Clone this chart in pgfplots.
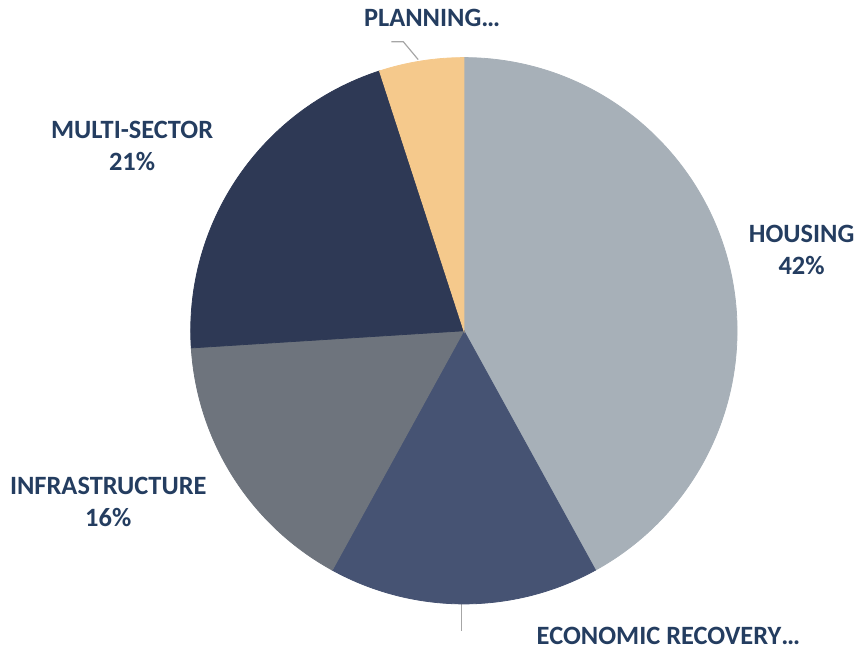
\documentclass[border=0pt]{standalone}
\usepackage{pgfplots}
\pgfplotsset{compat=1.18}
\usepackage{pgfplotstable}
\usepackage{fontspec}
\setmainfont{Carlito}
\definecolor{c0}{HTML}{A7B0B8}
\definecolor{c1}{HTML}{465373}
\definecolor{c2}{HTML}{6E747D}
\definecolor{c3}{HTML}{2E3955}
\definecolor{c4}{HTML}{F5C98C}
\definecolor{textc}{HTML}{243D60}
\definecolor{leader}{HTML}{A6A6A6}
% slices: share in percent, cumulative start in percent
\pgfplotstableread{
x y val start idx
467 322 42 0 0
467 322 16 42 1
467 322 16 58 2
467 322 21 74 3
467 322 5 95 4
}\slices
\begin{document}
\begin{tikzpicture}
\begin{axis}[
  scale only axis, width=430.5pt, height=327.5pt,
  xmin=0, xmax=861, ymin=0, ymax=655,
  hide axis, clip=false,
]
\path (rel axis cs:0,0) rectangle (rel axis cs:1,1);
\addplot[
  scatter, only marks, mark=*, mark size=0pt,
  mark options={draw=none, fill=none},
  visualization depends on={\thisrow{val} \as \va},
  visualization depends on={\thisrow{start} \as \st},
  visualization depends on={\thisrow{idx} \as \ix},
  scatter/@pre marker code/.code={%
    \pgfmathsetmacro\aa{90-3.6*\st}%
    \pgfmathsetmacro\bb{90-3.6*(\st+\va)}%
    \pgfmathtruncatemacro\ci{\ix}%
    \fill[c\ci] (0pt,0pt) -- (\aa:137.5pt) arc[start angle=\aa, end angle=\bb, radius=137.5pt] -- cycle;
  },
  scatter/@post marker code/.code={},
] table[x=x, y=y] {\slices};
\addplot[leader, line width=0.6pt, no marks] coordinates {(394,613) (406,613) (421,595)};
\addplot[leader, line width=0.6pt, no marks] coordinates {(465,47) (465,20)};
\begin{scope}[every node/.style={font=\fontsize{13.3}{16}\selectfont\bfseries, text=textc, align=center}]
\node at (axis cs:807,403.5) {HOUSING\\42\%};
\node at (axis cs:133,508) {MULTI-SECTOR\\21\%};
\node at (axis cs:109,149.5) {INFRASTRUCTURE\\16\%};
\node[anchor=base] at (axis cs:435,628) {PLANNING…};
\node[anchor=base] at (axis cs:673,6) {ECONOMIC RECOVERY…};
\end{scope}
\end{axis}
\end{tikzpicture}
\end{document}
